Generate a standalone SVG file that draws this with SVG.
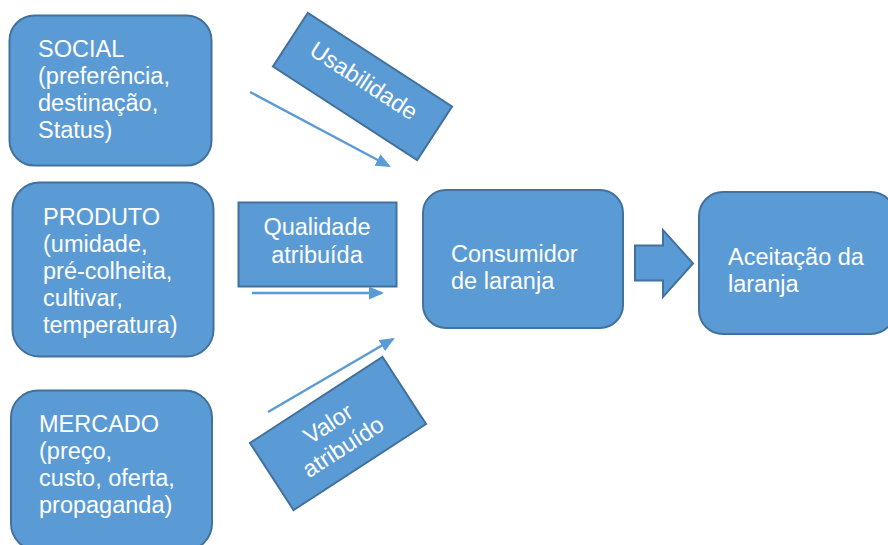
<svg xmlns="http://www.w3.org/2000/svg" width="888" height="545" viewBox="0 0 888 545">
<style>
.box{fill:#5B9BD5;stroke:#41719C;stroke-width:2}
.t{font-family:"Liberation Sans",Arial,sans-serif;font-size:23.5px;fill:#FFFFFF}
.c{text-anchor:middle}
.conn{stroke:#5B9BD5;stroke-width:2.5;fill:none;marker-end:url(#ah)}
</style>
<defs>
<marker id="ah" markerUnits="userSpaceOnUse" markerWidth="15" markerHeight="13" refX="13" refY="6.5" orient="auto">
<path d="M0,0 L15,6.5 L0,13 z" fill="#5B9BD5"/>
</marker>
</defs>
<rect width="888" height="545" fill="#FFFFFF"/>
<g id="social">
<rect class="box" x="9.5" y="15.5" width="202" height="150" rx="25"/>
<text class="t" x="38" y="57">SOCIAL<tspan x="38" dy="27">(preferência,</tspan><tspan x="38" dy="27">destinação,</tspan><tspan x="38" dy="27">Status)</tspan></text>
</g>
<g id="produto">
<rect class="box" x="12.5" y="182.5" width="201" height="174" rx="27"/>
<text class="t" x="43" y="225">PRODUTO<tspan x="43" dy="27">(umidade,</tspan><tspan x="43" dy="27">pré-colheita,</tspan><tspan x="43" dy="27">cultivar,</tspan><tspan x="43" dy="27">temperatura)</tspan></text>
</g>
<g id="mercado">
<rect class="box" x="11" y="390.5" width="201" height="160" rx="27"/>
<text class="t" x="39" y="432">MERCADO<tspan x="39" dy="27">(preço,</tspan><tspan x="39" dy="27">custo, oferta,</tspan><tspan x="39" dy="27">propaganda)</tspan></text>
</g>
<g id="usabilidade">
<g transform="translate(362.5,86.5) rotate(33)">
<rect class="box" x="-86" y="-32" width="172" height="64"/>
<text class="t c" x="-2" y="2.5">Usabilidade</text>
</g>
</g>
<g id="qualidade">
<rect class="box" x="238.5" y="202.5" width="158" height="84"/>
<text class="t c" x="317" y="235">Qualidade<tspan x="317" dy="27.5">atribuída</tspan></text>
</g>
<g id="valor">
<g transform="translate(338,433.5) rotate(-33)">
<rect class="box" x="-79" y="-40" width="158" height="80"/>
<text class="t c" x="-3" y="-5.5">Valor<tspan x="-3" dy="27.5">atribuído</tspan></text>
</g>
</g>
<g id="consumidor">
<rect class="box" x="423" y="190" width="200" height="138" rx="23"/>
<text class="t" x="451" y="262">Consumidor<tspan x="451" dy="27">de laranja</tspan></text>
</g>
<g id="aceitacao">
<rect class="box" x="699" y="192" width="196" height="142" rx="24"/>
<text class="t" x="728" y="265">Aceitação da<tspan x="728" dy="27">laranja</tspan></text>
</g>
<g id="connectors">
<line class="conn" x1="250" y1="92" x2="389" y2="166"/>
<line class="conn" x1="252" y1="293" x2="382" y2="293"/>
<line class="conn" x1="268" y1="412" x2="393" y2="339"/>
<polygon class="box" points="635,245.5 663,245.5 663,230 693,263.5 663,297 663,280.5 635,280.5"/>
</g>
</svg>
